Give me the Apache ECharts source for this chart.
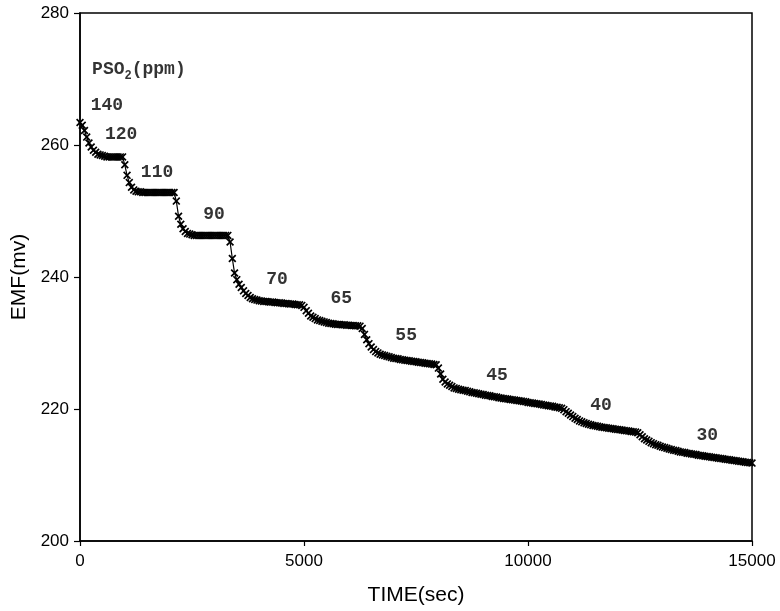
<!DOCTYPE html>
<html><head><meta charset="utf-8">
<script src="https://cdn.jsdelivr.net/npm/echarts@6/dist/echarts.min.js"></script>
<style>html,body{margin:0;padding:0;background:#fff}#c{width:780px;height:611px}</style>
</head><body><div id="c"></div>
<script>
// sampling interval of the recorded EMF (seconds)
const sampleStepSec = 50;
// EMF readings (mV), one every sampleStepSec from t = 0 to 15000 s
const emfMv = [
 263.4,263.0,262.2,261.2,260.3,259.7,259.2,258.9,258.6,258.5,
 258.4,258.3,258.2,258.2,258.2,258.2,258.2,258.2,258.2,258.2,
 257.0,255.4,254.3,253.6,253.2,253.0,252.9,252.9,252.8,252.8,
 252.8,252.8,252.8,252.8,252.8,252.8,252.8,252.8,252.8,252.8,
 252.8,252.8,252.8,251.5,249.2,248.0,247.3,246.9,246.6,246.5,
 246.4,246.3,246.3,246.3,246.3,246.3,246.3,246.3,246.3,246.3,
 246.3,246.3,246.3,246.3,246.3,246.3,246.3,245.3,242.8,240.6,
 239.6,238.9,238.4,237.9,237.5,237.2,236.9,236.7,236.6,236.5,
 236.4,236.35,236.3,236.3,236.25,236.2,236.2,236.15,236.1,236.1,
 236.05,236.0,236.0,235.95,235.9,235.9,235.85,235.8,235.8,235.7,
 235.4,234.9,234.5,234.1,233.9,233.7,233.5,233.4,233.3,233.2,
 233.1,233.0,232.95,232.9,232.85,232.8,232.8,232.75,232.75,232.7,
 232.7,232.65,232.65,232.6,232.6,232.55,232.2,231.3,230.5,229.9,
 229.4,229.0,228.7,228.5,228.3,228.2,228.1,228.0,227.9,227.8,
 227.7,227.65,227.6,227.5,227.45,227.4,227.35,227.3,227.25,227.2,
 227.15,227.1,227.05,227.0,226.95,226.9,226.85,226.8,226.75,226.7,
 226.2,225.3,224.5,224.1,223.8,223.6,223.4,223.2,223.1,223.0,
 222.9,222.85,222.8,222.7,222.6,222.5,222.45,222.4,222.3,222.25,
 222.2,222.1,222.05,222.0,221.9,221.85,221.8,221.7,221.65,221.6,
 221.55,221.5,221.45,221.4,221.35,221.3,221.25,221.2,221.15,221.1,
 221.0,220.95,220.9,220.85,220.8,220.75,220.7,220.6,220.55,220.5,
 220.45,220.4,220.3,220.25,220.2,220.1,219.9,219.6,219.35,219.1,
 218.85,218.6,218.4,218.2,218.05,217.9,217.8,217.7,217.6,217.5,
 217.45,217.4,217.3,217.25,217.2,217.15,217.1,217.05,217.0,216.95,
 216.9,216.85,216.8,216.75,216.7,216.65,216.6,216.55,216.5,216.4,
 216.1,215.8,215.5,215.3,215.1,214.9,214.75,214.6,214.5,214.35,
 214.25,214.15,214.05,213.95,213.85,213.75,213.7,213.6,213.5,213.45,
 213.4,213.3,213.25,213.2,213.15,213.1,213.0,212.95,212.9,212.85,
 212.8,212.75,212.7,212.65,212.6,212.55,212.5,212.45,212.4,212.35,
 212.3,212.25,212.2,212.15,212.1,212.05,212.0,211.95,211.9,211.85,
 211.8
];
// SO2 partial pressure annotations (ppm) and where they sit (time s, EMF mV)
const concLabels = ['140','120','110','90','70','65','55','45','40','30'];
const concLabelTime = [600, 920, 1720, 2990, 4400, 5830, 7280, 9310, 11630, 14000];
const concLabelEmf  = [266.0, 261.6, 255.8, 249.5, 239.7, 236.7, 231.1, 225.1, 220.5, 216.0];
const legendTitleTime = 270;
const legendTitleEmf = 271.4;
// axes
const xMin = 0, xMax = 15000, xStep = 5000;
const yMin = 200, yMax = 280, yStep = 20;
const xTitle = 'TIME(sec)';
const yTitle = 'EMF(mv)';

const curve = emfMv.map((v, i) => [i * sampleStepSec, v]);
const labelPts = concLabels.map((s, i) => ({ value: [concLabelTime[i], concLabelEmf[i]], name: s }));

const mono = 'Liberation Mono';
const sans = 'Liberation Sans';
const xSym = 'path://M0,1.5L1.5,0L5,3.5L8.5,0L10,1.5L6.5,5L10,8.5L8.5,10L5,6.5L1.5,10L0,8.5L3.5,5Z';

const chart = echarts.init(document.getElementById('c'), null, { renderer: 'canvas' });
chart.setOption({
  animation: false,
  backgroundColor: '#fff',
  grid: { left: 80, right: 28, top: 13, bottom: 68, show: true, borderColor: '#000', borderWidth: 1.5, backgroundColor: 'transparent' },
  xAxis: {
    type: 'value', min: xMin, max: xMax, interval: xStep,
    axisLine: { lineStyle: { color: '#000', width: 1.5 } },
    axisTick: { show: true, inside: false, length: 5, lineStyle: { color: '#000', width: 1.2 } },
    axisLabel: { color: '#000', fontFamily: sans, fontSize: 17, margin: 12, formatter: v => String(v) },
    splitLine: { show: false },
    name: xTitle, nameLocation: 'middle', nameGap: 44,
    nameTextStyle: { color: '#000', fontFamily: sans, fontSize: 21 }
  },
  yAxis: {
    type: 'value', min: yMin, max: yMax, interval: yStep,
    axisLine: { lineStyle: { color: '#000', width: 1.5 } },
    axisTick: { show: true, inside: false, length: 6, lineStyle: { color: '#000', width: 1.2 } },
    axisLabel: { color: '#000', fontFamily: sans, fontSize: 17, margin: 11, formatter: v => String(v) },
    splitLine: { show: false },
    name: yTitle, nameLocation: 'middle', nameGap: 46, nameRotate: 90,
    nameTextStyle: { color: '#000', fontFamily: sans, fontSize: 21 }
  },
  series: [
    {
      type: 'line', data: curve,
      symbol: xSym, symbolSize: 8, showAllSymbol: true,
      lineStyle: { color: '#000', width: 1.2 },
      itemStyle: { color: '#000' },
      z: 2
    },
    {
      type: 'scatter', data: labelPts, symbolSize: 0,
      label: {
        show: true, position: 'inside', formatter: p => p.name,
        color: '#000', fontFamily: mono, fontSize: 18, fontWeight: 'bold'
      },
      z: 3
    },
    {
      type: 'scatter', data: [{ value: [legendTitleTime, legendTitleEmf], name: 'PSO2(ppm)' }], symbolSize: 0,
      label: {
        show: true, position: 'inside', align: 'left',
        formatter: '{a|PSO}{s|2}{a|(ppm)}',
        rich: {
          a: { color: '#000', fontFamily: mono, fontSize: 18, fontWeight: 'bold', lineHeight: 24, verticalAlign: 'middle' },
          s: { color: '#000', fontFamily: mono, fontSize: 12, fontWeight: 'bold', lineHeight: 24, verticalAlign: 'bottom' }
        }
      },
      z: 3
    }
  ]
});
</script>
</body></html>
